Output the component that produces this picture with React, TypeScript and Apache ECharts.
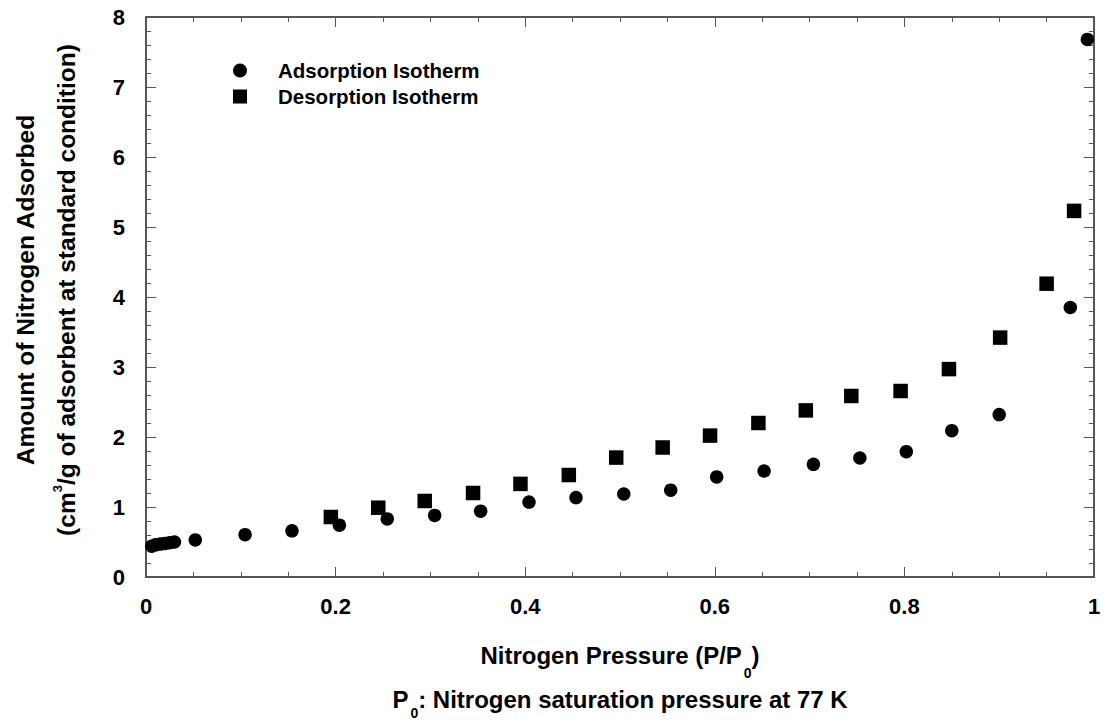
import React, { useEffect, useRef } from "react";
import * as echarts from "echarts";

// Relative pressure P/P0 and adsorbed volume (cm3/g STP)
const adsorptionP = [0.006, 0.01, 0.015, 0.02, 0.025, 0.03, 0.052, 0.1045, 0.154, 0.204, 0.2545, 0.3045, 0.353, 0.404, 0.4536, 0.504, 0.5535, 0.602, 0.652, 0.704, 0.753, 0.802, 0.85, 0.9, 0.975, 0.993];
const adsorptionV = [0.44, 0.46, 0.47, 0.48, 0.49, 0.5, 0.53, 0.605, 0.66, 0.74, 0.83, 0.88, 0.94, 1.07, 1.134, 1.186, 1.24, 1.43, 1.514, 1.61, 1.7, 1.79, 2.09, 2.32, 3.85, 7.68];

const desorptionP = [0.195, 0.245, 0.294, 0.345, 0.395, 0.446, 0.496, 0.545, 0.595, 0.646, 0.696, 0.744, 0.796, 0.847, 0.901, 0.95, 0.979];
const desorptionV = [0.857, 0.99, 1.086, 1.2, 1.33, 1.457, 1.706, 1.85, 2.02, 2.2, 2.38, 2.586, 2.657, 2.97, 3.42, 4.19, 5.23];

const seriesNames = ["Adsorption Isotherm", "Desorption Isotherm"];

const xTickLabels = ["0", "0.2", "0.4", "0.6", "0.8", "1"];
const yTickLabels = ["0", "1", "2", "3", "4", "5", "6", "7", "8"];

const FONT = "'Liberation Sans', Arial, Helvetica, sans-serif";
const AXIS_COLOR = "#555";

function pairs(xs: number[], ys: number[]) {
  return xs.map((x, i) => [x, ys[i]]);
}

function axisBase(min: number, max: number, interval: number, minorSplit: number, labels: string[] | null, margin: number, position: string) {
  return {
    type: "value",
    position,
    min,
    max,
    interval,
    axisLine: { show: true, onZero: false, lineStyle: { color: AXIS_COLOR, width: 2 } },
    axisTick: { show: true, inside: true, length: 10, lineStyle: { color: AXIS_COLOR, width: 1 } },
    minorTick: { show: true, splitNumber: minorSplit, length: 5, lineStyle: { color: AXIS_COLOR, width: 1 } },
    splitLine: { show: false },
    minorSplitLine: { show: false },
    axisLabel: labels
      ? {
          show: true,
          margin,
          color: "#000",
          fontFamily: FONT,
          fontWeight: "bold",
          fontSize: 22,
          formatter: (v: number) => labels[Math.round((v - min) / interval)] ?? "",
        }
      : { show: false },
  };
}

export default function App() {
  const ref = useRef<HTMLDivElement>(null);

  useEffect(() => {
    if (!ref.current) return;
    const chart = echarts.init(ref.current, null, { renderer: "svg" });

    const titleFont = { fontFamily: FONT, fontWeight: "bold", fill: "#000" };

    chart.setOption({
      animation: false,
      backgroundColor: "#fff",
      grid: { left: 146, top: 17, width: 948, height: 560 },
      xAxis: [
        axisBase(0, 1, 0.2, 4, xTickLabels, 18, "bottom"),
        axisBase(0, 1, 0.2, 4, null, 0, "top"),
      ],
      yAxis: [
        axisBase(0, 8, 1, 5, yTickLabels, 21, "left"),
        axisBase(0, 8, 1, 5, null, 0, "right"),
      ],
      legend: {
        left: 233,
        top: 60,
        orient: "vertical",
        padding: 0,
        itemGap: 5,
        itemWidth: 14,
        itemHeight: 14,
        data: [
          { name: seriesNames[0], icon: "circle" },
          { name: seriesNames[1], icon: "rect" },
        ],
        textStyle: { fontFamily: FONT, fontWeight: "bold", fontSize: 20.5, color: "#000", padding: [0, 0, 0, 26] },
      },
      series: [
        {
          name: seriesNames[0],
          type: "scatter",
          symbol: "circle",
          symbolSize: 13.5,
          itemStyle: { color: "#000", opacity: 1 },
          data: pairs(adsorptionP, adsorptionV),
          z: 3,
        },
        {
          name: seriesNames[1],
          type: "scatter",
          symbol: "rect",
          symbolSize: 14.5,
          itemStyle: { color: "#000", opacity: 1 },
          data: pairs(desorptionP, desorptionV),
          z: 2,
        },
      ],
      graphic: [
        {
          type: "text",
          x: 620,
          y: 643.5,
          style: {
            text: "{m|Nitrogen Pressure (P/P}{s|0}{m|)}",
            textAlign: "center",
            align: "center",
            textVerticalAlign: "top",
            verticalAlign: "top",
            rich: {
              m: { ...titleFont, fontSize: 24, verticalAlign: "top" },
              s: { ...titleFont, fontSize: 14, verticalAlign: "top", padding: [22, 0, 0, 2] },
            },
          },
        },
        {
          type: "text",
          x: 620,
          y: 687,
          style: {
            text: "{m|P}{s|0}{m|: Nitrogen saturation pressure at 77 K}",
            textAlign: "center",
            align: "center",
            textVerticalAlign: "top",
            verticalAlign: "top",
            rich: {
              m: { ...titleFont, fontSize: 24, verticalAlign: "top" },
              s: { ...titleFont, fontSize: 14, verticalAlign: "top", padding: [19, 0, 0, 2] },
            },
          },
        },
        {
          type: "text",
          x: 25.5,
          y: 290,
          rotation: Math.PI / 2,
          style: {
            text: "Amount of Nitrogen Adsorbed",
            textAlign: "center",
            align: "center",
            textVerticalAlign: "middle",
            verticalAlign: "middle",
            ...titleFont,
            fontSize: 24.5,
          },
        },
        {
          type: "text",
          x: 64.75,
          y: 290,
          rotation: Math.PI / 2,
          style: {
            text: "{m|(cm}{p|3}{m|/g of adsorbent at standard condition)}",
            textAlign: "center",
            align: "center",
            textVerticalAlign: "middle",
            verticalAlign: "middle",
            rich: {
              m: { ...titleFont, fontSize: 24.5, lineHeight: 28, verticalAlign: "bottom" },
              p: { ...titleFont, fontSize: 13, verticalAlign: "top" },
            },
          },
        },
      ],
    });

    return () => chart.dispose();
  }, []);

  return (
    <div
      ref={ref}
      style={{ position: "fixed", left: 0, top: 0, width: 1110, height: 723, background: "#fff" }}
    />
  );
}
